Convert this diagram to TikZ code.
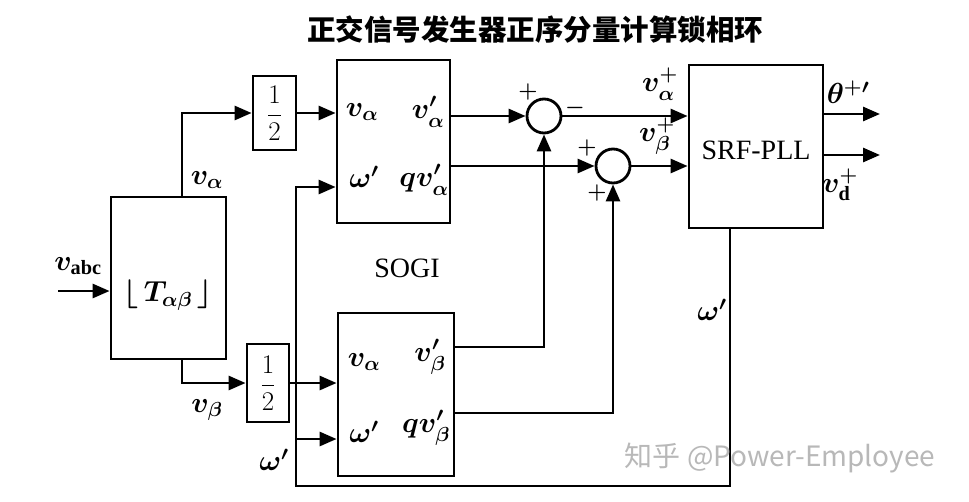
\RequirePackage{fix-cm}
\documentclass[tikz,border=0pt]{standalone}
\usepackage{fontspec}
\setmainfont{Liberation Serif}
\newfontfamily\cjk{Noto Sans CJK SC}
\usetikzlibrary{arrows.meta,calc}
\begin{document}
\begin{tikzpicture}[x=1pt,y=-1pt,
  line width=2.8pt,
  blk/.style={draw,rectangle,inner sep=0pt,line width=2.8pt},
  sumc/.style={draw,circle,minimum size=34pt,inner sep=0pt,line width=2.8pt},
  arr/.style={-{Triangle[length=17pt,width=14pt]}},
  lbl/.style={font=\fontsize{29}{32}\selectfont\boldmath,inner sep=0pt},
  sgn/.style={font=\fontsize{22}{24}\selectfont\boldmath,inner sep=0pt},
  big/.style={font=\fontsize{28}{30}\selectfont,inner sep=0pt}]
\useasboundingbox (0,0) rectangle (969,501);
% title
\node[font=\cjk\bfseries\fontsize{28.5}{30}\selectfont] (title) at (535,30) {正交信号发生器正序分量计算锁相环};
% blocks
\node[blk,minimum width=115pt,minimum height=162pt] (T) at (168.5,278) {};
\node[blk,minimum width=43pt,minimum height=74pt] (h1) at (274.5,113) {};
\node[blk,minimum width=42pt,minimum height=78pt] (h2) at (268,383) {};
\node[blk,minimum width=113pt,minimum height=163pt] (s1) at (393.5,141.5) {};
\node[blk,minimum width=116pt,minimum height=163pt] (s2) at (396,394.5) {};
\node[sumc] (c1) at (544,116) {};
\node[sumc] (c2) at (613,166) {};
\node[blk,minimum width=134pt,minimum height=163pt] (srf) at (756,146.5) {};
% texts in blocks
\node[lbl] (tl) at (168,295) {$\bigg\lfloor\, T_{\alpha\beta}\,\bigg\rfloor$};
\node[font=\fontsize{27}{30}\selectfont,inner sep=0pt] (h1t) at (h1) {$\displaystyle\frac{1}{2}$};
\node[font=\fontsize{27}{30}\selectfont,inner sep=0pt] (h2t) at (h2) {$\displaystyle\frac{1}{2}$};
\node[big] (srft) at (756,150) {SRF-PLL};
\node[big] (sogit) at (407,268) {SOGI};
\node[lbl] (a1) at (362,112) {$v_{\alpha}$};
\node[lbl] (a2) at (428,112) {$v^{\prime}_{\alpha}$};
\node[lbl] (a3) at (364,177) {$\omega^{\prime}$};
\node[lbl] (a4) at (424,180) {$qv^{\prime}_{\alpha}$};
\node[lbl] (b1) at (364,362) {$v_{\alpha}$};
\node[lbl] (b2) at (430,357) {$v^{\prime}_{\beta}$};
\node[lbl] (b3) at (364,432) {$\omega^{\prime}$};
\node[lbl] (b4) at (426,428) {$qv^{\prime}_{\beta}$};
% outside labels
\node[lbl] (labc) at (78,266) {$v_{\mathrm{abc}}$};
\node[lbl] (lva) at (207,180) {$v_{\alpha}$};
\node[lbl] (lvb) at (207,410) {$v_{\beta}$};
\node[lbl] (lw1) at (274,460) {$\omega^{\prime}$};
\node[lbl] (lw2) at (712,310) {$\omega^{\prime}$};
\node[lbl] (lpa) at (660,84) {$v^{+}_{\alpha}$};
\node[lbl] (lpb) at (657,136) {$v^{+}_{\beta}$};
\node[lbl] (lth) at (848,92) {$\theta^{+\prime}$};
\node[lbl] (lvd) at (840,185) {$v^{+}_{\mathrm{d}}$};
\node[sgn] (p1) at (528,92) {$+$};
\node[sgn] (m1) at (575,108) {$-$};
\node[sgn] (p2) at (587,148) {$+$};
\node[sgn] (p3) at (597,193) {$+$};
% coordinates
\coordinate (in) at (58,291);
\coordinate (tx) at (182,0);
\coordinate (y347) at (0,347);
\coordinate (y413) at (0,413);
\coordinate (o1) at (880,114);
\coordinate (o2) at (880,155);
\coordinate (fb) at (730,486);
\coordinate (fx) at (296,0);
\coordinate (y187) at (0,187);
\coordinate (y439) at (0,439);
% connectors
\draw[arr] (in) -- (in -| T.west);
\draw[arr] (T.north -| tx) |- (h1.west);
\draw[arr] (T.south -| tx) |- (h2.west);
\draw[arr] (h1.east) -- (h1.east -| s1.west);
\draw[arr] (h2.east) -- (h2.east -| s2.west);
\draw[arr] (s1.east |- c1) -- (c1.west);
\draw[arr] (s1.east |- c2) -- (c2.west);
\draw[arr] (c1.east) -- (c1.east -| srf.west);
\draw[arr] (c2.east) -- (c2.east -| srf.west);
\draw[arr] (s2.east |- y347) -| (c1.south);
\draw[arr] (s2.east |- y413) -| (c2.south);
\draw[arr] (srf.east |- o1) -- (o1);
\draw[arr] (srf.east |- o2) -- (o2);
\draw[arr] (srf.south -| fb) -- (fb) -- (fb -| fx) -- (fx |- y187) -- (s1.west |- y187);
\draw[arr] (fx |- y439) -- (s2.west |- y439);
% watermark
\node[font=\cjk\fontsize{28}{30}\selectfont,text=black!28,inner sep=0pt] (wm) at (780,458) {知乎 @Power-Employee};
\end{tikzpicture}
\end{document}
